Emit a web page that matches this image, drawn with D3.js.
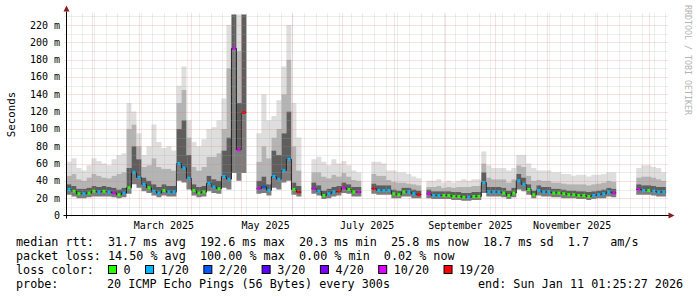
<!DOCTYPE html>
<html>
<head>
<meta charset="utf-8">
<script src="https://cdn.jsdelivr.net/npm/d3@7"></script>
<style>
  body { margin: 0; background: #fff; }
  text { font-family: "DejaVu Sans Mono", monospace; fill: #000; }
</style>
</head>
<body>
<div id="viz"></div>
<script>
// one value every 3 days, starting at startDate; null = no data
const startDate = new Date(2025, 0, 16, 12, 0);
const endDate = new Date(2026, 0, 11, 1, 25, 27);
const stepDays = 3;

const medianRtt = [
  30, 28, 25, 25, 26, 28, 27, 28, 27, 26,
  24, 26, 32, 50, 44, 36, 32, 28, 26, 29,
  27, 27, 60, 55, 43, 29, 26, 27, 37, 33,
  31, 45, 42, 193, 76, 119, null, null, 31, 33,
  29, 45, 42, 52, 65, 30, 27, null, null, 31,
  28, 23, 25, 27, 28, 32, 30, 27, 27, null,
  null, 31, 29, 29, 29, 25, 24, 27, 27, 25,
  24, null, 25, 23, 23, 23, 23, 22, 22, 21,
  21, 22, 22, 38, 27, 27, 27, 26, 23, 26,
  40, 36, 30, 24, 29, 27, 27, 26, 26, 25,
  24, 24, 23, 23, 22, 23, 24, 25, 27, 26,
  null, null, null, null, 30, 29, 29, 28, 27, 27
];
// lost pings out of 20
const lostPings = [
  1, 0, 0, 1, 0, 0, 1, 0, 1, 10,
  0, 1, 0, 1, 1, 1, 0, 1, 1, 0,
  1, 1, 1, 1, 1, 0, 0, 0, 1, 1,
  0, 1, 1, 10, 10, 19, 0, 0, 10, 2,
  1, 1, 1, 1, 1, 0, 19, 0, 0, 10,
  1, 0, 1, 1, 19, 10, 0, 0, 10, 0,
  0, 19, 1, 1, 1, 0, 0, 0, 1, 1,
  19, 0, 10, 1, 1, 0, 0, 0, 0, 0,
  1, 0, 0, 1, 1, 1, 1, 0, 0, 0,
  1, 1, 0, 0, 1, 1, 1, 0, 0, 0,
  0, 0, 0, 0, 0, 1, 1, 1, 1, 10,
  0, 0, 0, 0, 10, 1, 0, 1, 1, 1
];
// smoke: fastest ping, top of dark core, top of mid grey, slowest ping
const smokeLow = [
  24, 22, 20, 20, 21, 22, 22, 22, 22, 21,
  20, 21, 25, 36, 32, 28, 26, 23, 21, 23,
  22, 22, 40, 38, 30, 23, 21, 22, 28, 26,
  25, 32, 30, 49, 40, 49, null, null, 25, 26,
  23, 32, 30, 38, 40, 24, 22, null, null, 25,
  23, 19, 20, 22, 23, 26, 25, 22, 22, null,
  null, 25, 24, 24, 24, 20, 20, 22, 22, 20,
  20, null, 20, 19, 19, 19, 19, 18, 18, 17,
  17, 18, 18, 26, 22, 22, 22, 21, 19, 21,
  30, 28, 24, 20, 23, 22, 22, 21, 21, 20,
  20, 20, 19, 19, 18, 19, 20, 20, 22, 21,
  null, null, null, null, 24, 24, 24, 23, 22, 22
];
const smokeCore = [
  36, 34, 31, 31, 32, 34, 33, 34, 33, 32,
  30, 32, 55, 80, 65, 44, 40, 36, 33, 36,
  34, 34, 100, 110, 70, 36, 33, 34, 46, 42,
  40, 75, 90, 240, 130, 240, null, null, 40, 45,
  36, 75, 70, 95, 120, 38, 34, null, null, 38,
  35, 29, 31, 33, 34, 38, 36, 33, 33, null,
  null, 37, 35, 35, 35, 30, 29, 32, 32, 30,
  29, null, 30, 28, 28, 28, 28, 27, 27, 26,
  26, 27, 27, 50, 33, 33, 33, 32, 29, 32,
  48, 44, 36, 29, 35, 33, 33, 31, 31, 30,
  29, 29, 28, 28, 27, 28, 29, 30, 32, 31,
  null, null, null, null, 36, 35, 35, 34, 33, 33
];
const smokeMid = [
  46, 48, 42, 40, 44, 48, 46, 44, 43, 46,
  48, 50, 100, 105, 80, 56, 58, 66, 56, 54,
  54, 52, 130, 145, 90, 56, 52, 56, 68, 68,
  72, 100, 170, 240, 190, 240, null, null, 62, 80,
  66, 90, 100, 140, 180, 80, 52, null, null, 50,
  50, 45, 43, 47, 45, 49, 45, 41, 40, null,
  null, 48, 46, 46, 41, 39, 38, 38, 37, 36,
  35, null, 33, 33, 34, 32, 33, 32, 33, 33,
  33, 34, 34, 60, 44, 42, 42, 42, 38, 42,
  58, 56, 46, 40, 41, 40, 40, 38, 38, 37,
  36, 36, 36, 36, 35, 36, 37, 38, 40, 39,
  null, null, null, null, 44, 45, 45, 44, 42, 40
];
const smokeHigh = [
  62, 66, 55, 52, 58, 66, 63, 60, 58, 65,
  70, 72, 130, 120, 95, 70, 80, 105, 85, 78,
  80, 75, 150, 172, 110, 85, 80, 88, 100, 102,
  110, 135, 220, 240, 240, 240, null, null, 95, 140,
  110, 115, 133, 172, 220, 130, 90, null, null, 65,
  68, 62, 58, 65, 60, 63, 58, 52, 50, null,
  null, 62, 62, 60, 52, 52, 50, 50, 48, 45,
  43, null, 40, 40, 42, 38, 40, 38, 40, 42,
  40, 42, 42, 74, 58, 55, 55, 55, 52, 55,
  70, 70, 60, 55, 52, 52, 52, 50, 50, 48,
  48, 46, 47, 47, 45, 47, 47, 48, 50, 50,
  null, null, null, null, 55, 58, 58, 56, 55, 50
];

const lossSteps = [0, 1, 2, 3, 4, 10, 19];
const lossLabels = ["0", "1/20", "2/20", "3/20", "4/20", "10/20", "19/20"];
const lossColors = ["#26ff00", "#00b8ff", "#0059ff", "#5e00ff", "#7e00ff", "#dd00ff", "#ff0000"];

const yTicks = [0, 20, 40, 60, 80, 100, 120, 140, 160, 180, 200, 220];

const legendLines = [
  "median rtt:  31.7 ms avg  192.6 ms max  20.3 ms min  25.8 ms now  18.7 ms sd  1.7   am/s",
  "packet loss: 14.50 % avg  100.00 % max  0.00 % min  0.02 % now"
];
const probeText = "20 ICMP Echo Pings (56 Bytes) every 300s";
const endText = "end: Sun Jan 11 01:25:27 2026";

const width = 697;
const height = 297;
const plotLeft = 66.5, plotRight = 665.5, plotTop = 15.5, plotBottom = 215.5;

const svg = d3.select("#viz").append("svg")
  .attr("width", width)
  .attr("height", height);

const x = d3.scaleTime().domain([startDate, endDate]).range([plotLeft, plotRight]);
const y = d3.scaleLinear().domain([0, 231]).range([plotBottom, plotTop]);

const rows = medianRtt.map((m, i) => ({
  t0: d3.timeDay.offset(startDate, i * stepDays),
  t1: d3.timeDay.offset(startDate, (i + 1) * stepDays),
  med: m,
  loss: lostPings[i],
  lo: smokeLow[i],
  core: smokeCore[i],
  mid: smokeMid[i],
  hi: smokeHigh[i]
}));

// every value becomes two vertices so areas and lines come out as steps
const steps = rows.flatMap(d => [{ ...d, t: d.t0 }, { ...d, t: d.t1 }]);

svg.append("clipPath").attr("id", "plot")
  .append("rect")
  .attr("x", plotLeft).attr("y", plotTop - 1)
  .attr("width", plotRight - plotLeft + 1).attr("height", plotBottom - plotTop + 1);

const data = svg.append("g").attr("clip-path", "url(#plot)");

const bands = [
  ["hi", "mid", "#dedede"],
  ["mid", "core", "#b4b4b4"],
  ["core", "med", "#5e5e5e"],
  ["med", "lo", "#7c7c7c"]
];

bands.forEach(([upper, lower, color]) => {
  const area = d3.area()
    .defined(d => d.med != null)
    .x(d => x(d.t))
    .y0(d => y(d[lower]))
    .y1(d => y(d[upper]));
  data.append("path")
    .attr("d", area(steps))
    .attr("fill", color);
});

// grid
const grid = svg.append("g");
const minorColor = "rgba(165,165,165,0.4)";
const majorColor = "rgba(225,110,110,0.42)";
const minorY = d3.range(10, 231, 20);
grid.selectAll(".ymin").data(minorY).enter().append("line")
  .attr("x1", plotLeft - 2).attr("x2", plotRight + 2)
  .attr("y1", d => Math.round(y(d)) + 0.5).attr("y2", d => Math.round(y(d)) + 0.5)
  .attr("stroke", minorColor)
  .attr("stroke-dasharray", "1,1");

const weeks = d3.timeSunday.range(startDate, endDate);
grid.selectAll(".xmin").data(weeks).enter().append("line")
  .attr("x1", d => Math.round(x(d)) + 0.5).attr("x2", d => Math.round(x(d)) + 0.5)
  .attr("y1", plotTop - 2).attr("y2", plotBottom + 2)
  .attr("stroke", minorColor)
  .attr("stroke-dasharray", "1,1");

grid.selectAll(".ymaj").data(yTicks.slice(1)).enter().append("line")
  .attr("x1", plotLeft - 2).attr("x2", plotRight + 2)
  .attr("y1", d => Math.round(y(d)) + 0.5).attr("y2", d => Math.round(y(d)) + 0.5)
  .attr("stroke", majorColor)
  .attr("stroke-dasharray", "1,1");

const months = d3.timeMonth.range(startDate, endDate);
grid.selectAll(".xmaj").data(months).enter().append("line")
  .attr("x1", d => Math.round(x(d)) + 0.5).attr("x2", d => Math.round(x(d)) + 0.5)
  .attr("y1", plotTop - 2).attr("y2", plotBottom + 2)
  .attr("stroke", majorColor)
  .attr("stroke-dasharray", "1,1");

// median line
const medLine = d3.line()
  .defined(d => d.med != null)
  .x(d => x(d.t))
  .y(d => y(d.med));
data.append("path")
  .attr("d", medLine(steps))
  .attr("fill", "none")
  .attr("stroke", "#202020")
  .attr("stroke-width", 1);

function lossColor(n) {
  let c = lossColors[0];
  lossSteps.forEach((s, i) => { if (n >= s) c = lossColors[i]; });
  return c;
}

data.selectAll(".med").data(rows.filter(d => d.med != null)).enter().append("line")
  .attr("x1", d => x(d.t0) + 1)
  .attr("x2", d => x(d.t1) - 1)
  .attr("y1", d => y(d.med))
  .attr("y2", d => y(d.med))
  .attr("stroke", d => lossColor(d.loss))
  .attr("stroke-width", 3);

// axes
svg.append("line")
  .attr("x1", plotLeft - 3).attr("x2", plotRight + 4)
  .attr("y1", plotBottom).attr("y2", plotBottom)
  .attr("stroke", "#000");
svg.append("line")
  .attr("x1", plotLeft).attr("x2", plotLeft)
  .attr("y1", plotBottom + 3).attr("y2", plotTop - 4)
  .attr("stroke", "#000");
svg.append("path")
  .attr("d", `M${plotRight + 3},${plotBottom - 3}L${plotRight + 9},${plotBottom}L${plotRight + 3},${plotBottom + 3}Z`)
  .attr("fill", "#8b1c1c");
svg.append("path")
  .attr("d", `M${plotLeft - 3},${plotTop - 4}L${plotLeft},${plotTop - 10}L${plotLeft + 3},${plotTop - 4}Z`)
  .attr("fill", "#8b1c1c");

svg.selectAll(".ylab").data(yTicks).enter().append("text")
  .attr("x", 60)
  .attr("y", d => y(d) + 3.5)
  .attr("text-anchor", "end")
  .attr("font-size", "10px")
  .text(d => d === 0 ? "0" : d + " m");

const labelMonths = months.filter(d => d.getMonth() % 2 === 0 && d.getMonth() > 0);
svg.selectAll(".xlab").data(labelMonths).enter().append("text")
  .attr("x", d => x(d3.timeDay.offset(d, 15)))
  .attr("y", 228.5)
  .attr("text-anchor", "middle")
  .attr("font-size", "10px")
  .text(d => d3.timeFormat("%B %Y")(d));

svg.append("text")
  .attr("transform", "translate(15,114.5) rotate(-90)")
  .attr("text-anchor", "middle")
  .attr("font-size", "10.8px")
  .text("Seconds");

svg.append("text")
  .attr("transform", "translate(684.5,5) rotate(90)")
  .attr("font-size", "8.3px")
  .style("fill", "#b4b4b4")
  .text("RRDTOOL / TOBI OETIKER");

// legend
const legend = svg.append("g").attr("font-size", "11.75px");
legendLines.forEach((line, i) => {
  legend.append("text")
    .attr("x", 16).attr("y", 245.5 + i * 14)
    .style("white-space", "pre")
    .text(line);
});
legend.append("text").attr("x", 16).attr("y", 273.5).text("loss color:");

let bx = 108;
lossLabels.forEach((lab, i) => {
  legend.append("rect")
    .attr("x", bx + 0.5).attr("y", 265.5)
    .attr("width", 8).attr("height", 8)
    .attr("fill", lossColors[i])
    .attr("stroke", "#000");
  legend.append("text").attr("x", bx + 15.5).attr("y", 273.5).text(lab);
  bx += 15.5 + lab.length * 7.07 + 14.5;
});

legend.append("text").attr("x", 16).attr("y", 287.5).text("probe:");
legend.append("text").attr("x", 107).attr("y", 287.5).text(probeText);
legend.append("text").attr("x", 478).attr("y", 287.5).text(endText);
</script>
</body>
</html>
